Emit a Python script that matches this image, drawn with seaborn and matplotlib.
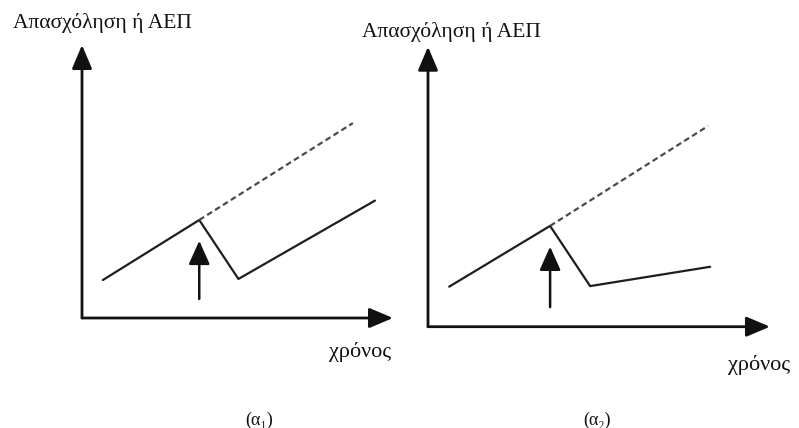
import matplotlib
matplotlib.use("Agg")
import matplotlib.pyplot as plt
import seaborn as sns
import pandas as pd

sns.set_theme(style="white")
plt.rcParams["font.family"] = ["Liberation Serif", "DejaVu Serif", "DejaVu Sans"]

# ---- data (schematic units: time vs level) ----
y_label = "Απασχόληση ή ΑΕΠ"
x_label = "χρόνος"
panel_labels = ["(α₁)", "(α₂)"]

# panel α1: full recovery onto a parallel growth path
a1_time = [0.67, 3.77, 5.03, 9.42]
a1_level = [1.39, 3.59, 1.43, 4.30]
a1_trend_time = [3.77, 8.71]
a1_trend_level = [3.59, 7.14]
a1_shock_time = 3.77
a1_shock_range = [0.70, 2.83]

# panel α2: permanent loss, slower growth
a2_time = [0.62, 3.57, 4.74, 8.25]
a2_level = [1.43, 3.60, 1.45, 2.14]
a2_trend_time = [3.57, 8.19]
a2_trend_level = [3.60, 7.17]
a2_shock_time = 3.57
a2_shock_range = [0.70, 2.86]

W, H = 799, 428
fig = plt.figure(figsize=(W / 100, H / 100), dpi=100)

def px_axes(x0, y0, x1, y1):
    # x0,y0 = origin pixel; x1 = x arrow tip; y1 = y arrow tip (pixel coords from top)
    return fig.add_axes([x0 / W, 1 - y0 / H, (x1 - x0) / W, (y0 - y1) / H])

ink = "#1e1e1e"

def draw_panel(ax, t, lv, tt, tl, st, sr):
    ax.set_xlim(0, 10)
    ax.set_ylim(0, 10)
    ax.axis("off")
    df = pd.DataFrame({"t": t, "v": lv})
    sns.lineplot(data=df, x="t", y="v", ax=ax, color=ink, lw=1.6, sort=False,
                 estimator=None)
    dft = pd.DataFrame({"t": tt, "v": tl})
    sns.lineplot(data=dft, x="t", y="v", ax=ax, color="#4a4a4a", lw=1.6,
                 linestyle=(0, (2.6, 1.6)), sort=False, estimator=None)
    # axes with arrowheads
    ap = dict(arrowstyle="-|>,head_length=0.85,head_width=0.36", color="#111",
              lw=2.0, shrinkA=0, shrinkB=0, mutation_scale=17)
    ax.annotate("", xy=(1, 0), xytext=(0, 0), xycoords="axes fraction",
                arrowprops=ap, annotation_clip=False)
    ax.annotate("", xy=(0, 1), xytext=(0, 0), xycoords="axes fraction",
                arrowprops=ap, annotation_clip=False)
    # shock arrow
    ap2 = dict(arrowstyle="-|>,head_length=0.85,head_width=0.38", color="#111",
               lw=1.8, shrinkA=0, shrinkB=0, mutation_scale=17)
    ax.annotate("", xy=(st, sr[1]), xytext=(st, sr[0]), arrowprops=ap2)

ax1 = px_axes(82, 318, 393, 45)
draw_panel(ax1, a1_time, a1_level, a1_trend_time, a1_trend_level,
           a1_shock_time, a1_shock_range)
ax2 = px_axes(428, 326.7, 770, 46.7)
draw_panel(ax2, a2_time, a2_level, a2_trend_time, a2_trend_level,
           a2_shock_time, a2_shock_range)

fs = 15.5
fig.text(12.7 / W, 1 - 23 / H, y_label, ha="left", va="center", fontsize=fs, color="#111")
fig.text(361.7 / W, 1 - 32 / H, y_label, ha="left", va="center", fontsize=fs, color="#111")
fig.text(329 / W, 1 - 352 / H, x_label, ha="left", va="center", fontsize=16, color="#111")
fig.text(728 / W, 1 - 365 / H, x_label, ha="left", va="center", fontsize=16, color="#111")
fig.text(259 / W, 1 - 420 / H, panel_labels[0], ha="center", va="center", fontsize=13,
         color="#111", family=["Liberation Serif", "DejaVu Sans"])
fig.text(597 / W, 1 - 420 / H, panel_labels[1], ha="center", va="center", fontsize=13,
         color="#111", family=["Liberation Serif", "DejaVu Sans"])

fig.savefig("out.png", dpi=100, facecolor="white")
